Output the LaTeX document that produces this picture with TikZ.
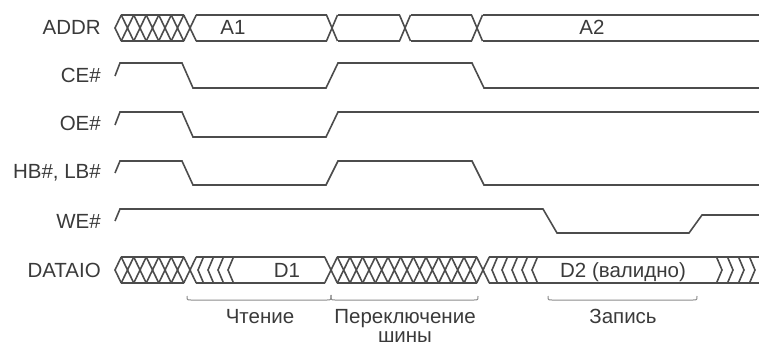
\documentclass[tikz,border=0pt]{standalone}
\usepackage{fontspec}
\setmainfont{Liberation Sans}
\definecolor{wire}{HTML}{4C4C4C}
\definecolor{txt}{HTML}{3A3A3A}
\definecolor{brk}{HTML}{8C8C8C}
\newcommand{\xcross}[4]{% center, half width, top y, bottom y
  \draw[wirestyle] ({#1-#2},#3) -- ({#1+#2},#4) ({#1-#2},#4) -- ({#1+#2},#3);}
\newcommand{\lchev}[3]{% tip x, top y, bottom y
  \draw[wirestyle] ({#1+5.5},#2) -- (#1,{(#2+#3)/2}) -- ({#1+5.5},#3);}
\newcommand{\rchev}[3]{% tip x, top y, bottom y
  \draw[wirestyle] ({#1-5.5},#2) -- (#1,{(#2+#3)/2}) -- ({#1-5.5},#3);}
\newcommand{\hatchrun}[5]{% first x, half width, count, top y, bottom y
  \foreach \j in {0,...,#3} {\xcross{#1+2*#2*\j}{#2}{#4}{#5}}}
\begin{document}
\begin{tikzpicture}[x=1pt,y=-1pt,
  wirestyle/.style={draw=wire, line width=1.6pt, line join=miter},
  lbl/.style={anchor=base east, text=txt, font=\fontsize{20.5}{24}\selectfont, inner sep=0pt},
  buslbl/.style={anchor=base, text=txt, font=\fontsize{20.5}{24}\selectfont, inner sep=0pt},
  brace/.style={draw=brk, line width=1pt}]
\useasboundingbox (0,0) rectangle (759,347);

% signal names
\node[lbl] (nADDR) at (101,35) {ADDR};
\node[lbl] (nCE) at (101,83) {CE\#};
\node[lbl] (nOE) at (101,131) {OE\#};
\node[lbl] (nHB) at (101,179) {HB\#, LB\#};
\node[lbl] (nWE) at (101,228) {WE\#};
\node[lbl] (nDATA) at (101,277) {DATAIO};

% ADDR bus
\draw[wirestyle] (121.25,15) -- (115,28) -- (121.25,41);
\draw[wirestyle] (121.25,15) -- (183.75,15) (121.25,41) -- (183.75,41);
\hatchrun{127.5}{6.25}{5}{15}{41}
\draw[wirestyle] (196.25,15) -- (326.5,15) (196.25,41) -- (326.5,41);
\xcross{332}{5.5}{15}{41}
\draw[wirestyle] (337.5,15) -- (399.5,15) (337.5,41) -- (399.5,41);
\xcross{405}{5.5}{15}{41}
\draw[wirestyle] (410.5,15) -- (471.5,15) (410.5,41) -- (471.5,41);
\xcross{477}{5.5}{15}{41}
\draw[wirestyle] (482.5,15) -- (759,15) (482.5,41) -- (759,41);
\node[buslbl] (tA1) at (233,35) {A1};
\node[buslbl] (tA2) at (592,35) {A2};

% control signals
\draw[wirestyle] (115,76) -- (120,63) -- (182,63) -- (193,88) -- (326,88) -- (338,63) -- (472,63) -- (484,88) -- (759,88);
\draw[wirestyle] (115,125) -- (120,112) -- (182,112) -- (193,137) -- (326,137) -- (338,112) -- (759,112);
\draw[wirestyle] (115,173) -- (120,161) -- (182,161) -- (193,185) -- (326,185) -- (338,161) -- (472,161) -- (484,185) -- (759,185);
\draw[wirestyle] (115,221) -- (120,209) -- (543,209) -- (557,233) -- (689,233) -- (702,215) -- (759,215);

% DATAIO bus
\draw[wirestyle] (121.25,257) -- (115,270) -- (121.25,283);
\draw[wirestyle] (121.25,257) -- (183.75,257) (121.25,283) -- (183.75,283);
\hatchrun{127.5}{6.25}{5}{257}{283}
\draw[wirestyle] (196.25,257) -- (324.67,257) (196.25,283) -- (324.67,283);
\foreach \t in {198,208,218,228} {\lchev{\t}{257}{283}}
\draw[wirestyle] (337.33,257) -- (476.67,257) (337.33,283) -- (476.67,283);
\hatchrun{331}{6.3333}{12}{257}{283}
\draw[wirestyle] (489.33,257) -- (759,257) (489.33,283) -- (759,283);
\foreach \t in {492,502,512,522,532} {\lchev{\t}{257}{283}}
\foreach \t in {722,733,744,755} {\rchev{\t}{257}{283}}
\node[buslbl] (tD1) at (287,277) {D1};
\node[buslbl] (tD2) at (623,277) {D2 (валидно)};

% phase brackets
\draw[brace] (187,296) .. controls (187,300) .. (191,300) -- (327,300) .. controls (331,300) .. (331,295);
\draw[brace] (331,295) .. controls (331,300) .. (335,300) -- (474,300) .. controls (478,300) .. (478,296);
\draw[brace] (548,296) .. controls (548,300) .. (552,300) -- (693,300) .. controls (697,300) .. (697,296);
\node[buslbl] (pRead) at (260,323) {Чтение};
\node[buslbl] (pSwitch) at (405,323) {Переключение};
\node[buslbl] (pBus) at (405,342) {шины};
\node[buslbl] (pWrite) at (623,323) {Запись};
\end{tikzpicture}
\end{document}
